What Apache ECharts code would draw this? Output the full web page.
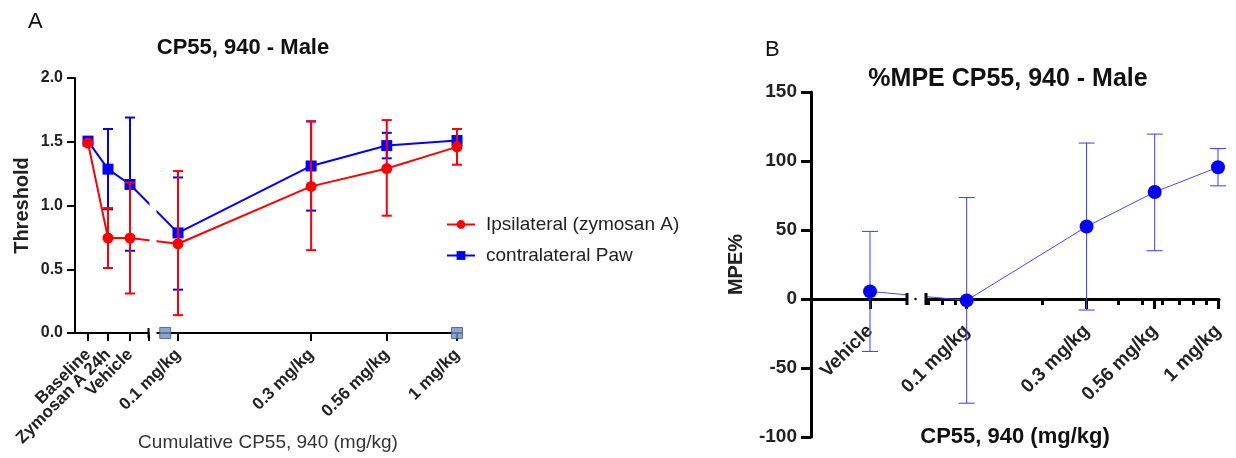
<!DOCTYPE html>
<html>
<head>
<meta charset="utf-8">
<script src="https://cdn.jsdelivr.net/npm/echarts@6/dist/echarts.min.js"></script>
<style>
  html, body { margin: 0; padding: 0; background: #fff; }
  #main { width: 1236px; height: 458px; }
</style>
</head>
<body>
<div id="main"></div>
<script>
// ---- panel A data (threshold) ----
var catLabelsA = ['Baseline', 'Zymosan A 24h', 'Vehicle'];
var catPosA = [-1.3226, -1.2509, -1.172];   // placed left of the axis break, in log-dose units
var doses = [0.1, 0.3, 0.56, 1];
var doseLabels = ['0.1 mg/kg', '0.3 mg/kg', '0.56 mg/kg', '1 mg/kg'];

var ipsiMean = [1.49, 0.745, 0.745, 0.70, 1.15, 1.29, 1.46];
var ipsiLow = [null, 0.51, 0.31, 0.14, 0.65, 0.92, 1.32];
var ipsiHigh = [null, 0.98, 1.18, 1.27, 1.66, 1.67, 1.60];

var contraMean = [1.505, 1.285, 1.165, 0.785, 1.31, 1.47, 1.51];
var contraLow = [null, 0.97, 0.645, 0.34, 0.96, 1.37, null];
var contraHigh = [null, 1.60, 1.69, 1.22, 1.66, 1.57, null];

var boxDoses = [0.09, 1];
var boxValues = [0, 0];

var xMinA = -1.3692, xMaxA = 0.0143;
var breakA = [-1.1057, -1.0735];

// ---- panel B data (%MPE) ----
var vehiclePosB = -1.3848;
var mpeLabels = ['Vehicle', '0.1 mg/kg', '0.3 mg/kg', '0.56 mg/kg', '1 mg/kg'];
var mpeMean = [5.5, -1, 52.5, 77.5, 95.5];
var mpeLow = [-38, -75.5, -8, 35, 82];
var mpeHigh = [49, 73.5, 113, 119.5, 109];
var minorDosesB = [0.07, 0.08, 0.09, 0.2, 0.4, 0.5, 0.6, 0.7, 0.8, 0.9];
var xMinB = -1.6196, xMaxB = 0.004;
var breakB = [-1.2376, -1.162];
var yMinB = -100, yMaxB = 150, gridHB = 345;

var FONT = 'Liberation Sans, Arial, sans-serif';
var RED = '#ff0000';
var BLUE = '#0000ff';

var xA = catPosA.concat(doses.map(function (d) { return Math.log10(d); }));
var xB = [vehiclePosB].concat(doses.map(function (d) { return Math.log10(d); }));
var labelsA = catLabelsA.concat(doseLabels);
// x axis of panel B sits on y = 0
var zeroOffsetB = -gridHB * (0 - yMinB) / (yMaxB - yMinB);

function pairs(xs, ys) {
    return xs.map(function (x, i) { return [x, ys[i]]; });
}
function errData(xs, lo, hi) {
    var res = [];
    for (var i = 0; i < xs.length; i++) {
        if (lo[i] != null) res.push([xs[i], lo[i], hi[i]]);
    }
    return res;
}
function errRender(half, width, color) {
    return function (params, api) {
        var x = api.value(0);
        var a = api.coord([x, api.value(1)]);
        var b = api.coord([x, api.value(2)]);
        var st = { stroke: color, lineWidth: width };
        return {
            type: 'group',
            children: [
                { type: 'line', shape: { x1: a[0], y1: a[1], x2: b[0], y2: b[1] }, style: st },
                { type: 'line', shape: { x1: a[0] - half, y1: a[1], x2: a[0] + half, y2: a[1] }, style: st },
                { type: 'line', shape: { x1: b[0] - half, y1: b[1], x2: b[0] + half, y2: b[1] }, style: st }
            ]
        };
    };
}
function nameFor(xs, names) {
    return function (v) {
        for (var i = 0; i < xs.length; i++) {
            if (Math.abs(xs[i] - v) < 1e-6) return names[i];
        }
        return '';
    };
}

var myChart = echarts.init(document.getElementById('main'));

var option = {
    backgroundColor: '#fff',
    animation: false,
    textStyle: { fontFamily: FONT },
    legend: {
        orient: 'vertical',
        left: 441,
        top: 210,
        itemWidth: 28,
        itemHeight: 11,
        itemGap: 12,
        data: ['Ipsilateral (zymosan A)', 'contralateral Paw'],
        textStyle: { fontSize: 19, color: '#222', fontFamily: FONT, padding: [0, 0, 0, 6] }
    },
    grid: [
        { left: 75, top: 78, width: 386, height: 255, outerBoundsMode: 'none', containLabel: false },
        { left: 811, top: 92, width: 408, height: gridHB, outerBoundsMode: 'none', containLabel: false }
    ],
    xAxis: [
        {
            gridIndex: 0,
            type: 'value',
            min: xMinA,
            max: xMaxA,
            name: 'Cumulative CP55, 940 (mg/kg)',
            nameLocation: 'middle',
            nameGap: 100,
            nameMoveOverlap: false,
            nameTextStyle: { fontSize: 19, color: '#333', fontFamily: FONT },
            axisLine: { onZero: false, lineStyle: { color: '#000', width: 2 } },
            axisTick: { customValues: xA.concat([breakA[0]]), length: 8, lineStyle: { color: '#000', width: 2 } },
            axisLabel: {
                // leading blank label keeps the crowded category labels from being dropped
                customValues: [xMinA].concat(xA),
                rotate: 45,
                margin: 19,
                fontSize: 17,
                fontWeight: 'bold',
                color: '#222',
                fontFamily: FONT,
                hideOverlap: false,
                formatter: nameFor(xA, labelsA)
            },
            splitLine: { show: false }
        },
        {
            gridIndex: 1,
            type: 'value',
            position: 'bottom',
            offset: zeroOffsetB,
            min: xMinB,
            max: xMaxB,
            axisLine: { onZero: false, lineStyle: { color: '#000', width: 3 } },
            axisTick: { customValues: xB, length: 10, lineStyle: { color: '#000', width: 3 } },
            axisLabel: {
                customValues: [xMinB].concat(xB),
                rotate: 45,
                margin: 29,
                fontSize: 19,
                fontWeight: 'bold',
                color: '#222',
                fontFamily: FONT,
                hideOverlap: false,
                formatter: nameFor(xB, mpeLabels)
            },
            splitLine: { show: false }
        },
        {
            gridIndex: 1,
            type: 'value',
            position: 'bottom',
            offset: zeroOffsetB,
            min: xMinB,
            max: xMaxB,
            axisLine: { show: false, onZero: false },
            axisTick: { customValues: minorDosesB.map(function (d) { return Math.log10(d); }), length: 6, lineStyle: { color: '#000', width: 3 } },
            axisLabel: { show: false },
            splitLine: { show: false }
        }
    ],
    yAxis: [
        {
            gridIndex: 0,
            type: 'value',
            min: 0,
            max: 2,
            interval: 0.5,
            name: 'Threshold',
            nameLocation: 'middle',
            nameGap: 43,
            nameMoveOverlap: false,
            nameTextStyle: { fontSize: 20, fontWeight: 'bold', color: '#222', fontFamily: FONT },
            axisLine: { show: true, onZero: false, lineStyle: { color: '#000', width: 2 } },
            axisTick: { show: true, length: 8, lineStyle: { color: '#000', width: 2 } },
            axisLabel: { fontSize: 16, fontWeight: 'bold', color: '#222', margin: 12, fontFamily: FONT, formatter: function (v) { return v.toFixed(1); } },
            splitLine: { show: false }
        },
        {
            gridIndex: 1,
            type: 'value',
            min: yMinB,
            max: yMaxB,
            interval: 50,
            name: 'MPE%',
            nameLocation: 'middle',
            nameGap: 65,
            nameMoveOverlap: false,
            nameTextStyle: { fontSize: 20, fontWeight: 'bold', color: '#222', fontFamily: FONT },
            axisLine: { show: true, onZero: false, lineStyle: { color: '#000', width: 3 } },
            axisTick: { show: true, length: 10, lineStyle: { color: '#000', width: 3 } },
            axisLabel: { fontSize: 19, fontWeight: 'bold', color: '#222', margin: 14, fontFamily: FONT },
            splitLine: { show: false }
        }
    ],
    series: [
        {
            name: 'contra err',
            type: 'custom',
            xAxisIndex: 0, yAxisIndex: 0,
            renderItem: errRender(5, 2, BLUE),
            data: errData(xA, contraLow, contraHigh),
            z: 2
        },
        {
            name: 'contralateral Paw',
            type: 'line',
            xAxisIndex: 0, yAxisIndex: 0,
            data: pairs(xA, contraMean),
            symbol: 'rect',
            symbolSize: 11,
            itemStyle: { color: BLUE },
            lineStyle: { color: BLUE, width: 2 },
            z: 3
        },
        {
            name: 'ipsi err',
            type: 'custom',
            xAxisIndex: 0, yAxisIndex: 0,
            renderItem: errRender(5, 2, RED),
            data: errData(xA, ipsiLow, ipsiHigh),
            z: 4
        },
        {
            name: 'Ipsilateral (zymosan A)',
            type: 'line',
            xAxisIndex: 0, yAxisIndex: 0,
            data: pairs(xA, ipsiMean),
            symbol: 'circle',
            symbolSize: 11,
            itemStyle: { color: RED },
            lineStyle: { color: RED, width: 2 },
            z: 5
        },
        {
            name: 'break boxes',
            type: 'scatter',
            xAxisIndex: 0, yAxisIndex: 0,
            data: pairs(boxDoses.map(function (d) { return Math.log10(d); }), boxValues),
            symbol: 'rect',
            symbolSize: 11,
            itemStyle: { color: '#6f8fc8', borderColor: '#3a5a8c', borderWidth: 1 },
            z: 10
        },
        {
            name: 'MPE err',
            type: 'custom',
            xAxisIndex: 1, yAxisIndex: 1,
            renderItem: errRender(8, 1, '#3a3aff'),
            data: errData(xB, mpeLow, mpeHigh),
            z: 3
        },
        {
            name: 'MPE',
            type: 'line',
            xAxisIndex: 1, yAxisIndex: 1,
            data: pairs(xB, mpeMean),
            symbol: 'circle',
            symbolSize: 14,
            itemStyle: { color: BLUE },
            lineStyle: { color: '#4646ff', width: 1 },
            z: 4
        }
    ]
};

myChart.setOption(option);

// axis-break decorations and headings
var a0 = myChart.convertToPixel({ gridIndex: 0 }, [breakA[0], 0]);
var a1 = myChart.convertToPixel({ gridIndex: 0 }, [breakA[1], 2]);
var b0 = myChart.convertToPixel({ gridIndex: 1 }, [breakB[0], 0]);
var b1 = myChart.convertToPixel({ gridIndex: 1 }, [breakB[1], 0]);

myChart.setOption({
    graphic: [
        { type: 'rect', z: 100, shape: { x: a0[0] + 1, y: a1[1] - 10, width: a1[0] - a0[0] - 2, height: a0[1] - a1[1] + 12 }, style: { fill: '#fff' } },
        { type: 'line', z: 101, shape: { x1: a0[0], y1: a0[1] - 5, x2: a0[0], y2: a0[1] + 5 }, style: { stroke: '#000', lineWidth: 2 } },
        { type: 'rect', z: 100, shape: { x: b0[0] + 1, y: b0[1] - 12, width: b1[0] - b0[0] - 2, height: 24 }, style: { fill: '#fff' } },
        { type: 'line', z: 101, shape: { x1: b0[0], y1: b0[1] - 6, x2: b0[0], y2: b0[1] + 6 }, style: { stroke: '#000', lineWidth: 3 } },
        { type: 'line', z: 101, shape: { x1: b1[0], y1: b1[1] - 6, x2: b1[0], y2: b1[1] + 6 }, style: { stroke: '#000', lineWidth: 3 } },
        { type: 'circle', z: 101, shape: { cx: b0[0] + (b1[0] - b0[0]) * 0.45, cy: b0[1], r: 1.2 }, style: { fill: '#000' } },
        { type: 'text', z: 101, x: 28, y: 22, style: { text: 'A', font: '22px ' + FONT, fill: '#111', textVerticalAlign: 'middle' } },
        { type: 'text', z: 101, x: 243, y: 48, style: { text: 'CP55, 940 - Male', font: 'bold 22px ' + FONT, fill: '#111', textAlign: 'center', textVerticalAlign: 'middle' } },
        { type: 'text', z: 101, x: 765, y: 50, style: { text: 'B', font: '22px ' + FONT, fill: '#111', textVerticalAlign: 'middle' } },
        { type: 'text', z: 101, x: 1008, y: 79, style: { text: '%MPE CP55, 940 - Male', font: 'bold 25px ' + FONT, fill: '#111', textAlign: 'center', textVerticalAlign: 'middle' } },
        { type: 'text', z: 101, x: 1015, y: 437, style: { text: 'CP55, 940 (mg/kg)', font: 'bold 22px ' + FONT, fill: '#111', textAlign: 'center', textVerticalAlign: 'middle' } }
    ]
});
</script>
</body>
</html>
